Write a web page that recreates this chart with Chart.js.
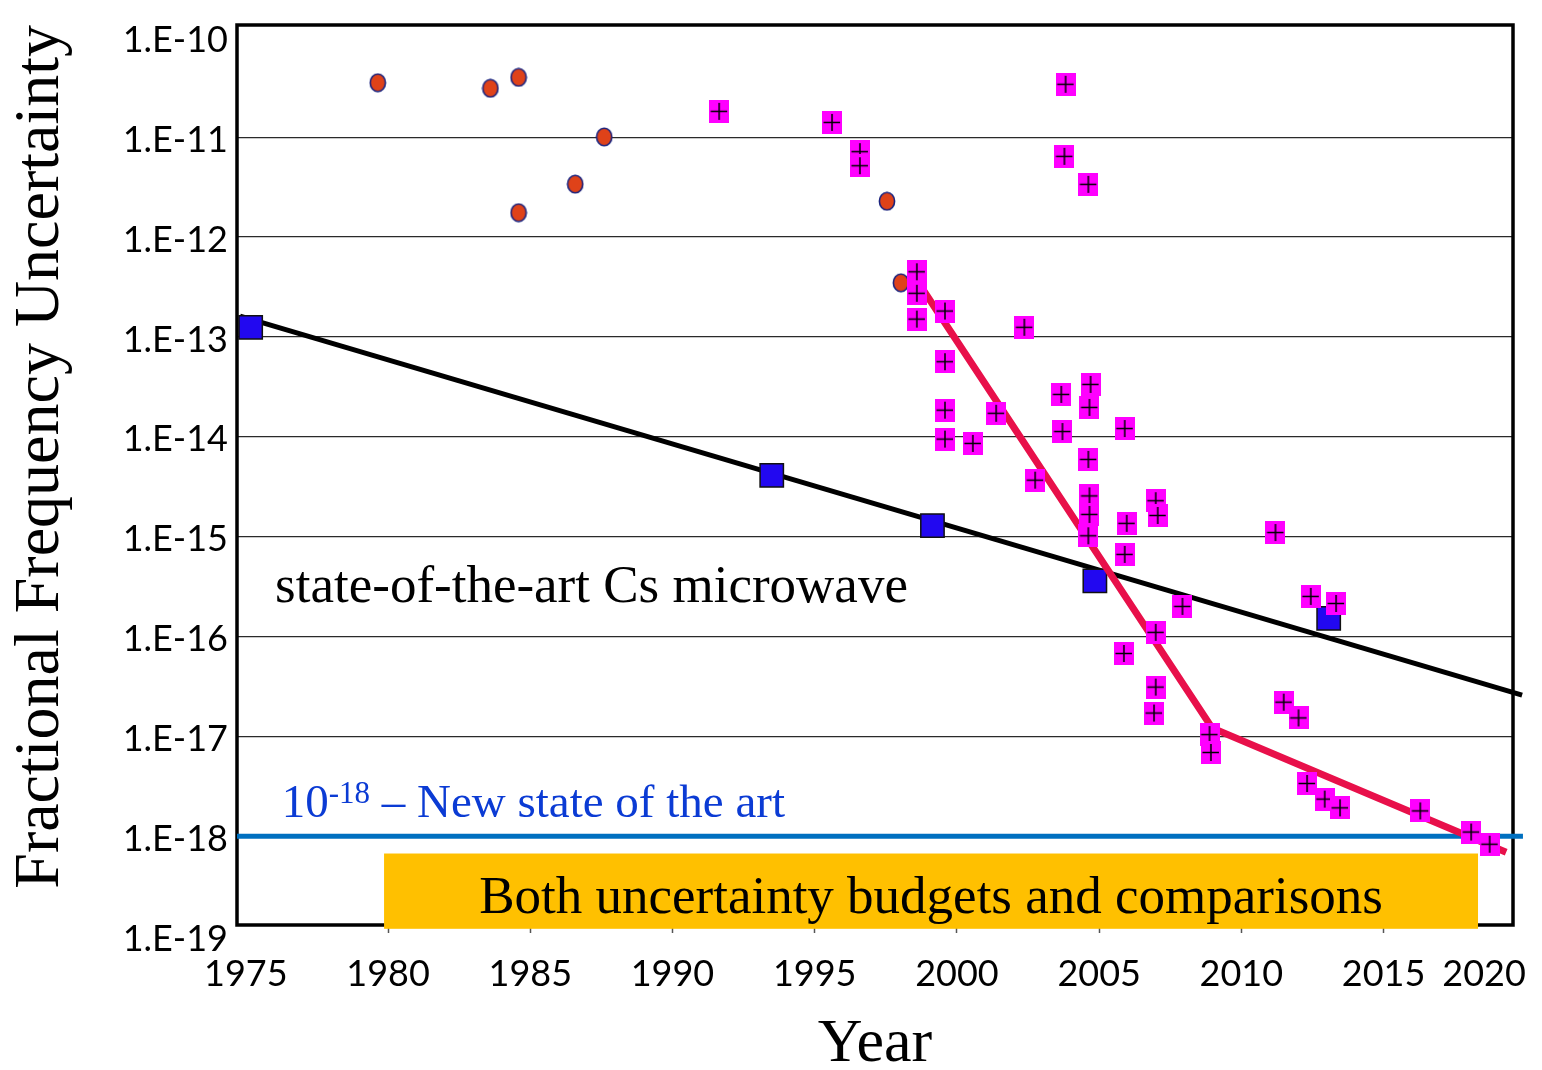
<!DOCTYPE html>
<html>
<head>
<meta charset="utf-8">
<title>Fractional Frequency Uncertainty vs Year</title>
<script src="https://cdn.jsdelivr.net/npm/chart.js@4.4.1/dist/chart.umd.min.js"></script>
<style>
  html, body { margin: 0; padding: 0; background: #fff; }
  #chart { display: block; }
</style>
</head>
<body>
<canvas id="chart" width="1542" height="1070"></canvas>
<script>
// Axis ranges and ticks
const xMin = 1974.69;
const xMax = 2019.55;
const yMin = Math.pow(10, -18.89);
const yMax = Math.pow(10, -9.875);
const yearTicks = [1975, 1980, 1985, 1990, 1995, 2000, 2005, 2010, 2015, 2020];
const decadeTicks = [1e-19, 1e-18, 1e-17, 1e-16, 1e-15, 1e-14, 1e-13, 1e-12, 1e-11, 1e-10];

// Early Cs beam standards (orange circles)
const beamYears = [1979.64, 1983.60, 1984.59, 1984.59, 1986.58, 1987.60, 1997.54, 1998.03];
const beamValues = [3.52e-11, 3.10e-11, 3.99e-11, 1.76e-12, 3.40e-12, 1.01e-11, 2.29e-12, 3.49e-13];

// Optical clocks (magenta squares with cross)
const opticalYears = [1991.64, 1995.61, 1996.59, 1996.59, 1998.59, 1998.59, 1998.59, 1999.58, 1999.58, 1999.58,
    1999.58, 2000.56, 2001.38, 2002.37, 2002.75, 2003.67, 2003.71, 2003.82, 2003.78, 2004.62,
    2004.70, 2004.66, 2004.62, 2004.66, 2004.66, 2004.62, 2005.90, 2005.97, 2005.90, 2005.87,
    2006.99, 2007.06, 2006.99, 2006.99, 2006.93, 2007.93, 2008.88, 2008.93, 2011.20, 2011.49,
    2012.01, 2012.31, 2012.93, 2013.47, 2012.44, 2013.33, 2016.29, 2018.08, 2018.73];
const opticalValues = [1.82e-11, 1.41e-11, 7.18e-12, 5.19e-12, 4.50e-13, 2.74e-13, 1.51e-13, 1.82e-13, 5.65e-14, 1.85e-14,
    9.49e-15, 8.59e-15, 1.72e-14, 1.25e-13, 3.68e-15, 2.66e-14, 1.13e-14, 3.40e-11, 6.45e-12, 3.38e-12,
    3.35e-14, 1.97e-14, 5.94e-15, 2.56e-15, 1.67e-15, 1.02e-15, 1.21e-14, 1.36e-15, 6.64e-16, 6.76e-17,
    2.29e-15, 1.63e-15, 1.10e-16, 3.11e-17, 1.71e-17, 2.00e-16, 1.04e-17, 6.89e-18, 1.10e-15, 2.20e-17,
    1.53e-17, 3.37e-18, 2.35e-18, 1.92e-18, 2.52e-16, 2.14e-16, 1.79e-18, 1.10e-18, 8.30e-19];

// State-of-the-art Cs microwave standards (blue squares)
const fountainYears = [1975.17, 1993.49, 1999.14, 2004.85, 2013.07];
const fountainValues = [1.25e-13, 4.11e-15, 1.29e-15, 3.61e-16, 1.52e-16];

// Trend lines
const microwaveTrendYears = [1974.80, 2019.87];
const microwaveTrendValues = [1.62e-13, 2.58e-17];
const opticalTrendYears = [1998.63, 2008.97, 2019.31];
const opticalTrendValues = [3.55e-13, 1.21e-17, 6.90e-19];
const targetYears = [1974.69, 2019.90];
const targetValues = [1e-18, 1e-18];

function toPoints(xs, ys) {
    return xs.map((x, i) => ({ x: x, y: ys[i] }));
}

// Marker images
function makeOpticalMarker() {
    const c = document.createElement('canvas');
    c.width = 20;
    c.height = 23;
    const g = c.getContext('2d');
    g.fillStyle = '#FF00FF';
    g.fillRect(0, 0, 20, 23);
    g.strokeStyle = '#000';
    g.lineWidth = 1.5;
    g.beginPath();
    g.moveTo(1.5, 11.5); g.lineTo(18, 11.5);
    g.moveTo(10, 3); g.lineTo(10, 20);
    g.stroke();
    return c;
}

function makeBeamMarker() {
    const c = document.createElement('canvas');
    c.width = 18;
    c.height = 20;
    const g = c.getContext('2d');
    g.fillStyle = '#DF4219';
    g.strokeStyle = '#1A237E';
    g.lineWidth = 1.6;
    g.beginPath();
    g.ellipse(9, 10, 7.6, 8.8, 0, 0, Math.PI * 2);
    g.fill();
    g.stroke();
    return c;
}

const clear = 'rgba(0,0,0,0)';

// Frame and text notes
const notesPlugin = {
    id: 'notes',
    beforeDatasetsDraw(chart) {
        const { ctx, chartArea: a } = chart;
        ctx.save();
        ctx.strokeStyle = '#000';
        ctx.lineWidth = 3.5;
        ctx.strokeRect(a.left, a.top, a.right - a.left, a.bottom - a.top);
        ctx.restore();
    },
    afterDatasetsDraw(chart) {
        const { ctx } = chart;
        const sx = chart.scales.x;
        const sy = chart.scales.y;
        ctx.save();
        ctx.textBaseline = 'alphabetic';
        ctx.textAlign = 'left';

        // Cs microwave label
        ctx.fillStyle = '#000';
        ctx.font = '53px "Liberation Serif"';
        ctx.fillText('state-of-the-art Cs microwave', sx.getPixelForValue(1976.03), sy.getPixelForValue(2.22e-16));

        // 10^-18 label
        ctx.fillStyle = '#0B3BD4';
        let px = sx.getPixelForValue(1976.26);
        const base = sy.getPixelForValue(1.56e-18);
        ctx.font = '47px "Liberation Serif"';
        ctx.fillText('10', px, base);
        px += ctx.measureText('10').width;
        ctx.font = '31px "Liberation Serif"';
        ctx.fillText('-18', px, base - 14);
        px += ctx.measureText('-18').width;
        ctx.font = '47px "Liberation Serif"';
        ctx.fillText(' \u2013 New state of the art', px, base);

        // Orange box
        const bx0 = sx.getPixelForValue(1979.86);
        const bx1 = sx.getPixelForValue(2018.32);
        const by0 = sy.getPixelForValue(6.70e-19);
        const by1 = sy.getPixelForValue(1.18e-19);
        ctx.fillStyle = '#FFC000';
        ctx.fillRect(bx0, by0, bx1 - bx0, by1 - by0);
        ctx.fillStyle = '#000';
        ctx.font = '53px "Liberation Serif"';
        ctx.textAlign = 'center';
        ctx.fillText('Both uncertainty budgets and comparisons', (bx0 + bx1) / 2, sy.getPixelForValue(1.69e-19));
        ctx.restore();
    }
};

new Chart(document.getElementById('chart'), {
    type: 'scatter',
    data: {
        datasets: [
            {
                label: 'Optical clocks',
                data: toPoints(opticalYears, opticalValues),
                pointStyle: makeOpticalMarker(),
                pointRadius: 10,
                order: 0
            },
            {
                label: 'Cs beam',
                data: toPoints(beamYears, beamValues),
                pointStyle: makeBeamMarker(),
                pointRadius: 9,
                order: 1
            },
            {
                label: 'Optical trend',
                data: toPoints(opticalTrendYears, opticalTrendValues),
                showLine: true,
                borderColor: '#E8104A',
                borderWidth: 7,
                pointRadius: 0,
                clip: false,
                order: 2
            },
            {
                label: 'Cs microwave',
                data: toPoints(fountainYears, fountainValues),
                pointStyle: 'rect',
                pointRadius: 16.5,
                backgroundColor: '#2208F0',
                borderColor: '#111',
                borderWidth: 1.5,
                order: 3
            },
            {
                label: 'Cs microwave trend',
                data: toPoints(microwaveTrendYears, microwaveTrendValues),
                showLine: true,
                borderColor: '#000',
                borderWidth: 5,
                pointRadius: 0,
                clip: false,
                order: 4
            },
            {
                label: '1e-18 level',
                data: toPoints(targetYears, targetValues),
                showLine: true,
                borderColor: '#0070C0',
                borderWidth: 5,
                pointRadius: 0,
                clip: false,
                order: 5
            }
        ]
    },
    options: {
        responsive: false,
        animation: false,
        devicePixelRatio: 1,
        events: [],
        layout: { padding: { top: 25, right: 29, bottom: 0, left: 0 } },
        plugins: {
            legend: { display: false },
            tooltip: { enabled: false }
        },
        scales: {
            x: {
                type: 'linear',
                min: xMin,
                max: xMax,
                afterBuildTicks: (axis) => {
                    axis.ticks = [xMin].concat(yearTicks).map(v => ({ value: v }));
                },
                afterFit: (axis) => {
                    axis.height = 145;
                    axis.paddingLeft = 0;
                    axis.paddingRight = 0;
                },
                ticks: {
                    autoSkip: false,
                    maxRotation: 0,
                    align: 'inner',
                    padding: 20,
                    color: '#000',
                    font: { family: 'Lato', size: 36 },
                    callback: (v) => yearTicks.includes(v) ? String(v) : ''
                },
                grid: {
                    drawOnChartArea: false,
                    tickLength: 8,
                    tickWidth: 1.5,
                    tickColor: (ctx) => (ctx.tick && ctx.tick.value > 1977 && ctx.tick.value < 2018) ? '#555' : clear
                },
                border: { display: false },
                title: {
                    display: true,
                    text: 'Year',
                    color: '#000',
                    font: { family: 'Liberation Serif', size: 62, lineHeight: 0.8 },
                    padding: { top: 0, bottom: 0 }
                }
            },
            y: {
                type: 'logarithmic',
                min: yMin,
                max: yMax,
                afterBuildTicks: (axis) => {
                    axis.ticks = decadeTicks.map(v => ({ value: v, major: true }));
                },
                afterFit: (axis) => {
                    axis.width = 237;
                    axis.paddingTop = 0;
                    axis.paddingBottom = 0;
                },
                ticks: {
                    autoSkip: false,
                    padding: 9,
                    labelOffset: 3,
                    color: '#000',
                    font: { family: 'Lato', size: 36 },
                    callback: (v) => '1.E' + Math.round(Math.log10(v))
                },
                grid: {
                    drawTicks: false,
                    lineWidth: 1.3,
                    color: (ctx) => (ctx.tick && (ctx.tick.value > 5e-11 || ctx.tick.value < yMin)) ? clear : '#2a2a2a'
                },
                border: { display: false },
                title: {
                    display: true,
                    text: 'Fractional Frequency Uncertainty',
                    align: 'end',
                    color: '#000',
                    font: { family: 'Liberation Serif', size: 64, lineHeight: 1.2 },
                    padding: { top: 3, bottom: 0 }
                }
            }
        }
    },
    plugins: [notesPlugin]
});
</script>
</body>
</html>
